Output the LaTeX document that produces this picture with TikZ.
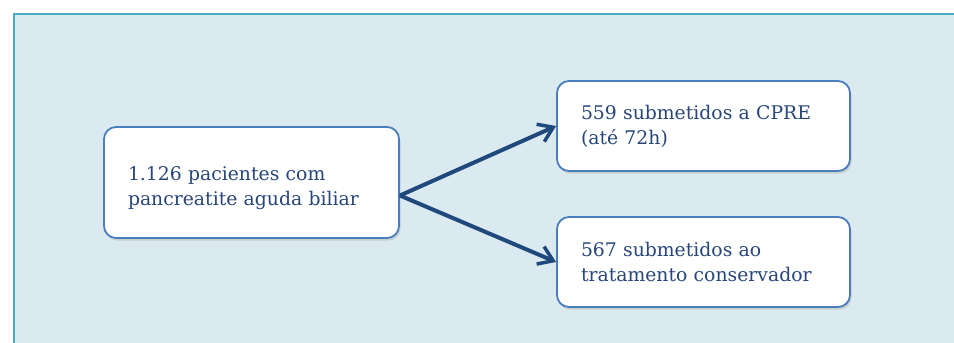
\documentclass[tikz,border=0pt]{standalone}
\usepackage{fontspec}
\setmainfont{DejaVu Serif}
\usetikzlibrary{arrows.meta,positioning,shadows}

\definecolor{panelfill}{HTML}{DBEAF0}
\definecolor{panelline}{HTML}{4BACC6}
\definecolor{boxline}{HTML}{4A7EBB}
\definecolor{arrowblue}{HTML}{1F497D}
\definecolor{textblue}{HTML}{28467A}

\begin{document}
\begin{tikzpicture}[
    x=1pt, y=-1pt,
    flowbox/.style 2 args={draw=boxline, fill=white, line width=1.8pt, rounded corners=12pt,
        text width=#1, inner xsep=24pt, inner ysep=0pt, align=left,
        text=textblue, font=\fontsize{18.8}{25}\selectfont,
        execute at begin node={\rule{0pt}{#2}},
        drop shadow={opacity=0.25, shadow xshift=1.5pt, shadow yshift=-2.5pt}},
    flowarrow/.style={draw=arrowblue, line width=4pt,
        -{Straight Barb[length=14pt, width=19pt, line width=3.5pt]}}
]
    \useasboundingbox (0,0) rectangle (954,343);

    % Background panel
    \draw[draw=panelline, fill=panelfill, line width=2.8pt] (14,14) rectangle (980,370);

    % Boxes
    \node[flowbox={247pt}{26pt}, minimum height=111pt] (pacientes) at (251.5,182.5)
        {1.126 pacientes com\\pancreatite aguda biliar};
    \node[flowbox={245pt}{0pt}, minimum height=90pt] (cpre) at (703.5,126)
        {559 submetidos a CPRE\\(até 72h)};
    \node[flowbox={245pt}{0pt}, minimum height=90pt] (conserv) at (703.5,262)
        {567 submetidos ao\\tratamento conservador};

    % Arrows
    \draw[flowarrow] ([yshift=-13pt]pacientes.east) -- (cpre.west);
    \draw[flowarrow] ([yshift=-13pt]pacientes.east) -- (conserv.west);
\end{tikzpicture}
\end{document}
